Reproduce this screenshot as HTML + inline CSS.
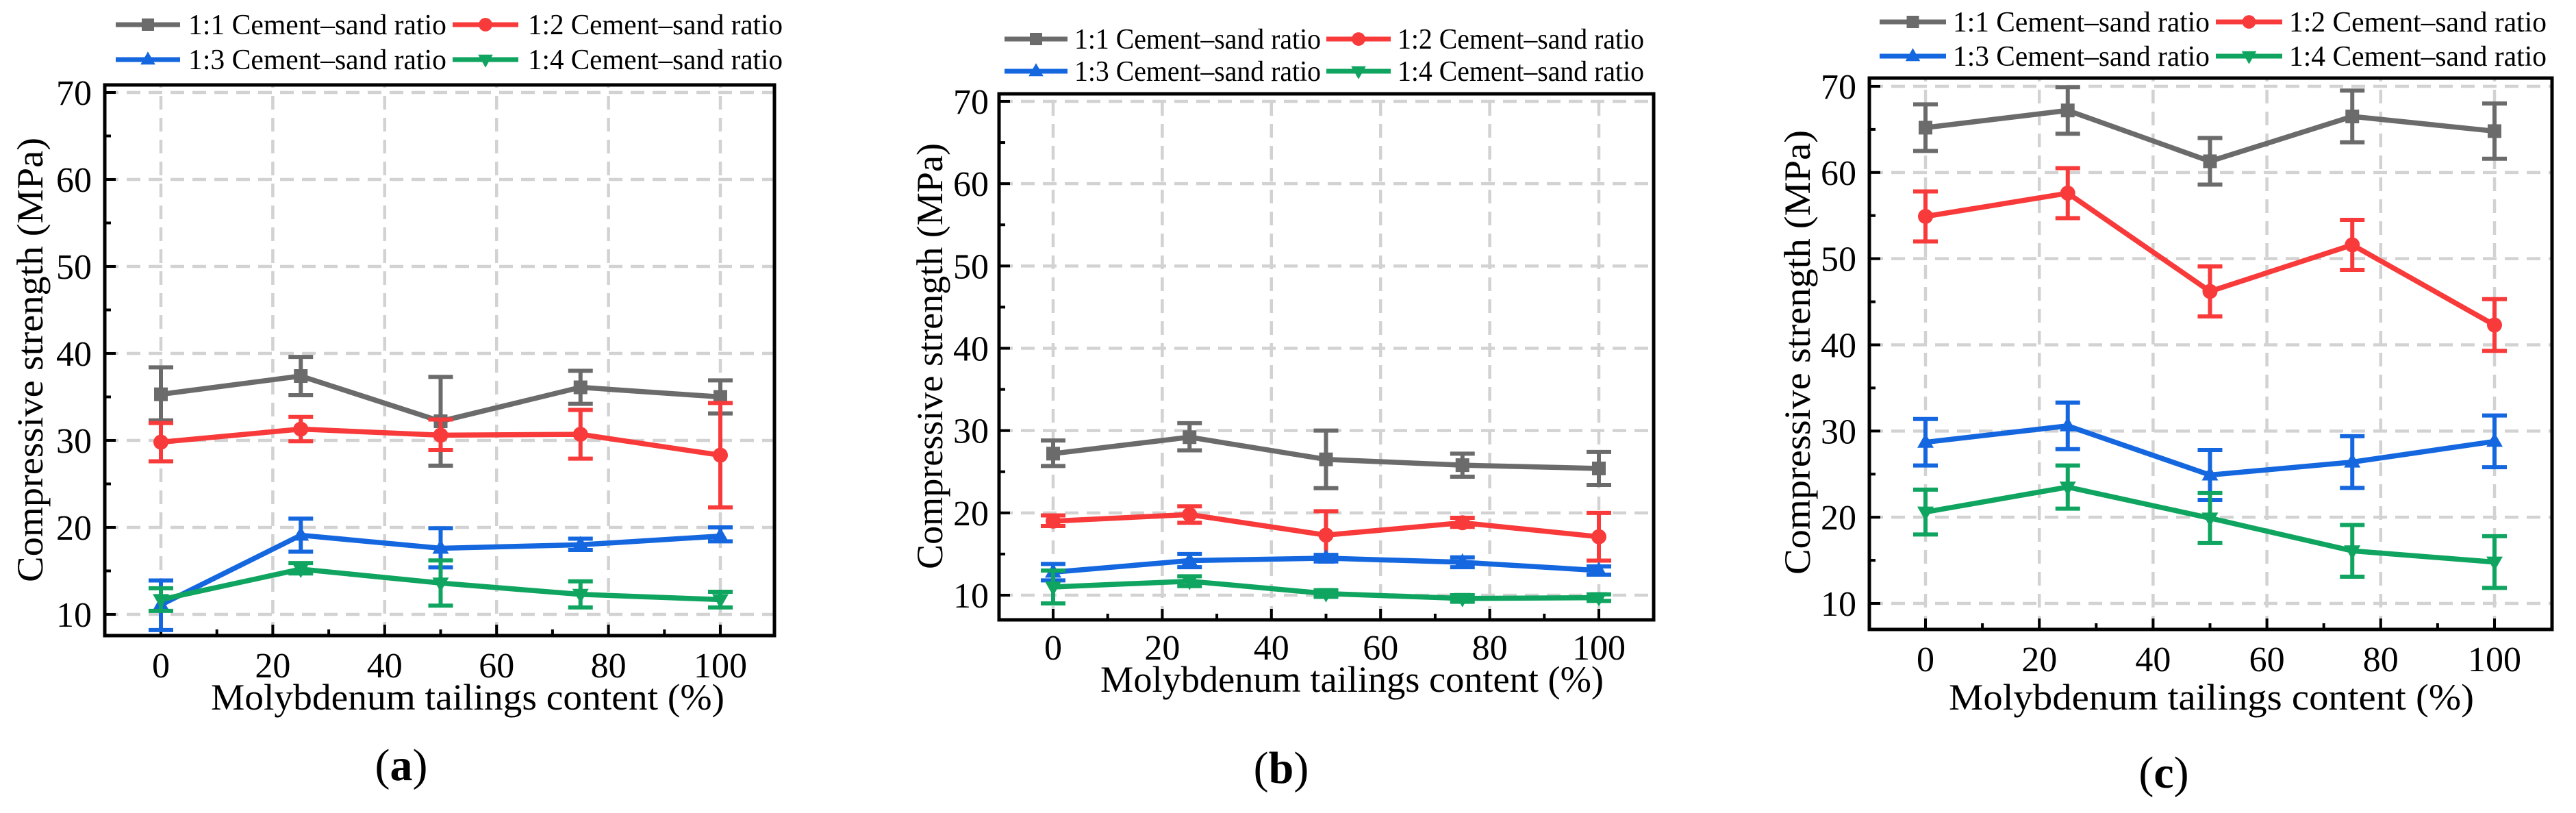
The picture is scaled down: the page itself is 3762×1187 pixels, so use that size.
<!DOCTYPE html>
<html><head><meta charset="utf-8"><style>
html,body{margin:0;padding:0;background:#fff;}
svg{display:block;}
text{font-family:"Liberation Serif",serif;fill:#000;}
</style></head><body>
<svg id="fig" width="3762" height="1187" viewBox="0 0 3762 1187" xmlns="http://www.w3.org/2000/svg"></svg>
<script>
const xCategories = [0, 25, 50, 75, 100];
const xTicks = [0, 20, 40, 60, 80, 100];
const yTicks = [10, 20, 30, 40, 50, 60, 70];
const seriesNames = ["1:1 Cement\u2013sand ratio","1:2 Cement\u2013sand ratio","1:3 Cement\u2013sand ratio","1:4 Cement\u2013sand ratio"];
const panelLabels = ["a","b","c"];
// panel a
const a1 = [35.3, 37.4, 32.2, 36.1, 35.0]; const a1Lo = [32.3, 35.2, 27.1, 34.2, 33.1]; const a1Hi = [38.4, 39.6, 37.3, 38.0, 36.9];
const a2 = [29.8, 31.3, 30.6, 30.7, 28.3]; const a2Lo = [27.6, 29.9, 28.9, 27.9, 22.3]; const a2Hi = [32.0, 32.7, 32.4, 33.5, 34.3];
const a3 = [11.1, 19.1, 17.6, 18.0, 19.0]; const a3Lo = [8.2, 17.2, 15.4, 17.4, 18.4]; const a3Hi = [13.9, 21.0, 19.9, 18.7, 20.0];
const a4 = [11.7, 15.2, 13.6, 12.3, 11.7]; const a4Lo = [10.4, 14.7, 11.0, 10.8, 10.8]; const a4Hi = [13.0, 15.9, 16.2, 13.8, 12.6];
// panel b
const b1 = [27.2, 29.2, 26.5, 25.8, 25.4]; const b1Lo = [25.7, 27.6, 23.0, 24.4, 23.4]; const b1Hi = [28.8, 30.9, 30.0, 27.2, 27.4];
const b2 = [19.0, 19.8, 17.3, 18.8, 17.1]; const b2Lo = [18.4, 18.8, 14.4, 18.3, 14.2]; const b2Hi = [19.7, 20.8, 20.2, 19.4, 20.0];
const b3 = [12.8, 14.2, 14.5, 14.0, 13.0]; const b3Lo = [11.8, 13.4, 14.1, 13.4, 12.5]; const b3Hi = [13.8, 15.0, 14.9, 14.6, 13.5];
const b4 = [11.0, 11.7, 10.2, 9.6, 9.7]; const b4Lo = [9.0, 11.1, 9.8, 9.2, 9.3]; const b4Hi = [13.0, 12.3, 10.6, 10.0, 10.1];
// panel c
const c1 = [65.2, 67.2, 61.3, 66.5, 64.8]; const c1Lo = [62.5, 64.5, 58.6, 63.5, 61.6]; const c1Hi = [67.9, 69.9, 64.0, 69.5, 68.0];
const c2 = [54.9, 57.6, 46.2, 51.6, 42.3]; const c2Lo = [52.0, 54.7, 43.3, 48.7, 39.3]; const c2Hi = [57.8, 60.5, 49.1, 54.5, 45.3];
const c3 = [28.7, 30.6, 24.9, 26.4, 28.8]; const c3Lo = [26.0, 27.9, 22.0, 23.4, 25.8]; const c3Hi = [31.4, 33.3, 27.8, 29.4, 31.8];
const c4 = [20.6, 23.5, 19.9, 16.1, 14.8]; const c4Lo = [18.0, 21.0, 17.0, 13.1, 11.8]; const c4Hi = [23.2, 26.0, 22.8, 19.1, 17.8];

const colors = ["#6b6b6b","#f83a3a","#1467de","#0fa45f"];
const markers = ["square","circle","up","down"];
const NS = "http://www.w3.org/2000/svg";
const svg = document.getElementById("fig");
function el(tag, attrs, parent){ const e=document.createElementNS(NS,tag); for(const k in attrs) e.setAttribute(k,attrs[k]); (parent||svg).appendChild(e); return e; }

const panels = [
 {id:"a", data:[[a1,a1Lo,a1Hi],[a2,a2Lo,a2Hi],[a3,a3Lo,a3Hi],[a4,a4Lo,a4Hi]],
  fl:153,fr:1131,ft:124,fb:928, x0:235,x100:1052, y70:135,y10:897,
  leg:{r1:36,r2:87,l1:[169,263],t1:[275,652],l2:[661,757],t2:[771,1143]},
  tickBase:989, ytRight:134, xt:{base:1036,x1:308,x2:1058}, yt:{cx:44,y1:850,y2:201}, lab:{cx:586,base:1139}},
 {id:"b", data:[[b1,b1Lo,b1Hi],[b2,b2Lo,b2Hi],[b3,b3Lo,b3Hi],[b4,b4Lo,b4Hi]],
  fl:1459,fr:2415,ft:137,fb:905, x0:1538,x100:2335, y70:148,y10:869,
  leg:{r1:57,r2:104,l1:[1467,1559],t1:[1569,1929],l2:[1937,2031],t2:[2041,2401]},
  tickBase:963, ytRight:1444, xt:{base:1010,x1:1607,x2:2342}, yt:{cx:1358,y1:831,y2:209}, lab:{cx:1871,base:1143}},
 {id:"c", data:[[c1,c1Lo,c1Hi],[c2,c2Lo,c2Hi],[c3,c3Lo,c3Hi],[c4,c4Lo,c4Hi]],
  fl:2730,fr:3727,ft:114,fb:919, x0:2812,x100:3643, y70:126,y10:881,
  leg:{r1:32,r2:82,l1:[2745,2842],t1:[2852,3227],l2:[3236,3333],t2:[3343,3719]},
  tickBase:980, ytRight:2711, xt:{base:1036,x1:2846,x2:3613}, yt:{cx:2625,y1:839,y2:190}, lab:{cx:3160,base:1150}}
];

function marker(g, type, x, y, color, s){
  let m;
  if(type==="square") m=el("rect",{x:x-s,y:y-s,width:2*s,height:2*s,fill:color},g);
  else if(type==="circle") m=el("circle",{cx:x,cy:y,r:s*1.1,fill:color},g);
  else if(type==="up") m=el("polygon",{points:`${x},${y-s*1.3} ${x-s*1.2},${y+s*0.8} ${x+s*1.2},${y+s*0.8}`,fill:color},g);
  else m=el("polygon",{points:`${x},${y+s*1.3} ${x-s*1.2},${y-s*0.8} ${x+s*1.2},${y-s*0.8}`,fill:color},g);
  return m;
}

panels.forEach((p,pi)=>{
  const g = el("g",{});
  
  
  const X = v => p.x0 + (v/100)*(p.x100-p.x0);
  const Y = v => p.y10 + (v-10)/60*(p.y70-p.y10);
  const grid = el("g",{stroke:"#d2d2d2","stroke-width":4.5,"stroke-dasharray":"20 12",fill:"none"},g);
  
  
  yTicks.forEach(t=>{ el("line",{x1:p.fl,x2:p.fr,y1:Y(t),y2:Y(t)},grid); });
  xTicks.forEach(t=>{ el("line",{x1:X(t),x2:X(t),y1:p.fb,y2:p.ft},grid); });
  const tk = el("g",{stroke:"#000","stroke-width":4},g);
  yTicks.forEach(t=>{ el("line",{x1:p.fl,x2:p.fl+16,y1:Y(t),y2:Y(t)},tk);
    if(Y(t-5) < p.fb-3) el("line",{x1:p.fl,x2:p.fl+9,y1:Y(t-5),y2:Y(t-5)},tk);});
  xTicks.forEach(t=>{ el("line",{x1:X(t),x2:X(t),y1:p.fb,y2:p.fb-16},tk); if(t<100) el("line",{x1:X(t+10),x2:X(t+10),y1:p.fb,y2:p.fb-9},tk);});
  yTicks.forEach(t=>{ const tx=el("text",{x:p.ytRight,y:Y(t)+18,"font-size":52,"text-anchor":"end"},g); tx.textContent=t;
      });
  xTicks.forEach(t=>{ const tx=el("text",{x:X(t),y:p.tickBase,"font-size":52,"text-anchor":"middle"},g); tx.textContent=t;
      });
  p.data.forEach((sd,si)=>{
    const sg = el("g",{},g);
    
    
    const c = colors[si];
    const pts = xCategories.map((x,i)=>X(x)+","+Y(sd[0][i])).join(" ");
    el("polyline",{points:pts,fill:"none",stroke:c,"stroke-width":7.5,"stroke-linejoin":"round"},sg);
    xCategories.forEach((x,i)=>{
      const cx=X(x), lo=Y(sd[1][i]), hi=Y(sd[2][i]);
      const eb=el("path",{d:`M${cx},${lo}V${hi}M${cx-18},${lo}H${cx+18}M${cx-18},${hi}H${cx+18}`,stroke:c,"stroke-width":6,fill:"none"},sg);
      
      
      const m=marker(sg,markers[si],cx,Y(sd[0][i]),c,10);
      
      
    });
  });
  const fr=el("rect",{x:p.fl,y:p.ft,width:p.fr-p.fl,height:p.fb-p.ft,fill:"none",stroke:"#000","stroke-width":5},g);
  
  
  const L=p.leg;
  const lg = el("g",{},g);
  
  
  const pos=[[L.l1,L.t1,L.r1],[L.l2,L.t2,L.r1],[L.l1,L.t1,L.r2],[L.l2,L.t2,L.r2]];
  pos.forEach((q,si)=>{
    const eg=el("g",{},lg);
    
    
    el("line",{x1:q[0][0],x2:q[0][1],y1:q[2],y2:q[2],stroke:colors[si],"stroke-width":7},eg);
    marker(eg,markers[si],(q[0][0]+q[0][1])/2,q[2],colors[si],9);
    const t=el("text",{x:q[1][0],y:q[2]+14,"font-size":42,textLength:q[1][1]-q[1][0],lengthAdjust:"spacingAndGlyphs"},eg);
    t.textContent=seriesNames[si];
  });
  const xt=el("text",{x:p.xt.x1,y:p.xt.base,"font-size":54,textLength:p.xt.x2-p.xt.x1,lengthAdjust:"spacingAndGlyphs"},g);
  xt.textContent="Molybdenum tailings content (%)";
   
  const ytl=el("text",{x:0,y:0,"font-size":54,textLength:p.yt.y1-p.yt.y2,lengthAdjust:"spacingAndGlyphs",transform:`translate(${p.yt.cx+18},${p.yt.y1}) rotate(-90)`},g);
  ytl.textContent="Compressive strength (MPa)";
   
  const lab=el("text",{x:p.lab.cx,y:p.lab.base,"font-size":66,"text-anchor":"middle"},g);
  lab.innerHTML='(<tspan font-weight="bold">'+panelLabels[pi]+'</tspan>)';
   
});
</script>
</body></html>
